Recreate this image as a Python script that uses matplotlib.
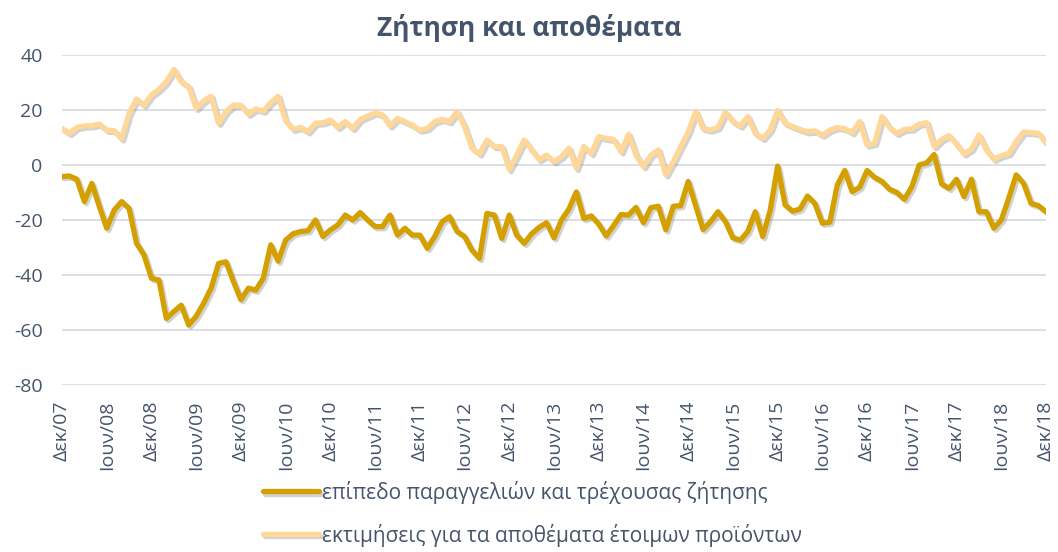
import matplotlib
matplotlib.use('Agg')
import matplotlib.pyplot as plt
import matplotlib.patheffects as pe

plt.rcParams['font.family'] = ['Open Sans', 'DejaVu Sans']
plt.rcParams['axes.unicode_minus'] = False

# μηνιαία στοιχεία Δεκ/07 - Δεκ/18
orders = [-4.2, -4, -5.2, -13.3, -6.7, -15, -23, -16.4, -13.3, -15.8,
          -28.5, -32.7, -41.2, -41.8, -55.8, -53.3, -51, -58.2, -55, -50.3,
          -44.8, -35.8, -35.2, -42.4, -49, -44.8, -45.5, -41.2, -29, -35,
          -27.3, -25, -24.2, -23.9, -20, -26, -23.6, -21.8, -18.2, -20,
          -17.3, -20, -22.4, -22.4, -18.2, -25.5, -23, -25.5, -25.5, -30.3,
          -26, -20.6, -18.8, -24.2, -26, -31, -34, -17.6, -18.2, -26.7,
          -18.2, -25.5, -28.5, -25, -22.7, -21, -26.5, -20, -16, -9.8,
          -19.5, -18.5, -21.5, -25.8, -22, -18, -18.2, -15.4, -21, -15.5,
          -15, -23.6, -15, -14.8, -6, -14.8, -23.5, -20.6, -17, -20.6,
          -26.5, -27.3, -24.2, -17, -26, -16.5, -0.4, -14.5, -16.8, -16,
          -11.3, -14, -21.2, -20.8, -7.3, -2, -9.7, -8.1, -2, -4.5,
          -6, -8.8, -10, -12.5, -7.9, 0, 0.8, 3.8, -6.9, -8.5,
          -5.2, -11.5, -5.2, -17, -17, -23, -20, -12.1, -3.6, -6.7,
          -14, -14.8, -17]

stocks = [13.3, 11.5, 13.7, 14.2, 14.3, 14.9, 12.7, 12.5, 9.5, 18.8,
          24, 21.8, 25.5, 27.5, 30.3, 34.8, 30.3, 28.5, 20.6, 23.3,
          25, 15.2, 19.4, 21.8, 21.7, 18.5, 20.4, 19.6, 22.7, 25,
          16.1, 13, 13.7, 12.1, 15.2, 15.4, 16.4, 13.7, 15.8, 13.3,
          16.6, 17.8, 19, 18.2, 14.2, 17, 15.8, 14.5, 12.7, 13.3,
          15.8, 16.6, 15.8, 19.4, 13.9, 6.1, 4, 9.1, 6.7, 6.7,
          -1.6, 3.6, 9.1, 5.5, 2, 3.6, 1.2, 3, 6.1, -1.2,
          6.7, 4.2, 10.3, 9.7, 9.3, 4.8, 11.2, 3.6, -0.6, 3.6,
          5.5, -3.6, 1.2, 6.7, 12, 19.4, 13.3, 12.7, 13.7, 19.2,
          15.8, 14.2, 17.6, 11.5, 9.7, 12.7, 19.8, 15.2, 14, 13,
          12.1, 12.4, 10.9, 12.7, 13.7, 13.2, 11.8, 15.8, 7.3, 7.9,
          17.6, 13.7, 11.5, 13, 13.1, 14.9, 15.4, 6.7, 9.3, 10.7,
          7.6, 4, 5.8, 10.9, 5.5, 2.1, 3.4, 4.2, 8.5, 12,
          11.8, 11.5, 7.9]

tick_labels = ['Δεκ/07', 'Ιουν/08', 'Δεκ/08', 'Ιουν/09', 'Δεκ/09', 'Ιουν/10',
               'Δεκ/10', 'Ιουν/11', 'Δεκ/11', 'Ιουν/12', 'Δεκ/12', 'Ιουν/13',
               'Δεκ/13', 'Ιουν/14', 'Δεκ/14', 'Ιουν/15', 'Δεκ/15', 'Ιουν/16',
               'Δεκ/16', 'Ιουν/17', 'Δεκ/17', 'Ιουν/18', 'Δεκ/18']

label_orders = 'επίπεδο παραγγελιών και τρέχουσας ζήτησης'
label_stocks = 'εκτιμήσεις για τα αποθέματα έτοιμων προϊόντων'

text_col = '#44546A'
shadow = [pe.SimpleLineShadow(offset=(1.5, -1.5), shadow_color='#7f7f7f', alpha=0.35), pe.Normal()]

fig = plt.figure(figsize=(10.58, 5.52), dpi=100)
ax = fig.add_axes([62/1058, 1-385/552, (1046-62)/1058, (385-55)/552])

x = range(len(orders))
ax.plot(x, orders, color='#D4A000', lw=3.8, label=label_orders, path_effects=shadow,
        solid_joinstyle='round', solid_capstyle='round')
ax.plot(x, stocks, color='#FFD899', lw=3.8, label=label_stocks, path_effects=shadow,
        solid_joinstyle='round', solid_capstyle='round')

ax.set_xlim(0, len(orders) - 1)
ax.set_ylim(-80, 40)
ax.set_yticks(range(-80, 41, 20))
ax.set_xticks(range(0, len(orders), 6))
ax.set_xticklabels(tick_labels, rotation=90)
ax.grid(axis='y', color='#D9DDE4', lw=1.3)
ax.set_axisbelow(True)
for s in ax.spines.values():
    s.set_visible(False)
ax.tick_params(axis='both', length=0, labelsize=14, colors=text_col)
ax.tick_params(axis='y', pad=14)
ax.tick_params(axis='x', pad=11)

fig.text(0.5, 1-28/552, 'Ζήτηση και αποθέματα', ha='center', va='center',
         fontsize=19, fontweight='bold', color=text_col)

fig.legend(loc='upper left', bbox_to_anchor=(244/1058, 1-462/552), frameon=False,
           fontsize=15, labelcolor=text_col, handlelength=2.7, handletextpad=0.15,
           labelspacing=0.95)

fig.savefig('out.png', dpi=100)
